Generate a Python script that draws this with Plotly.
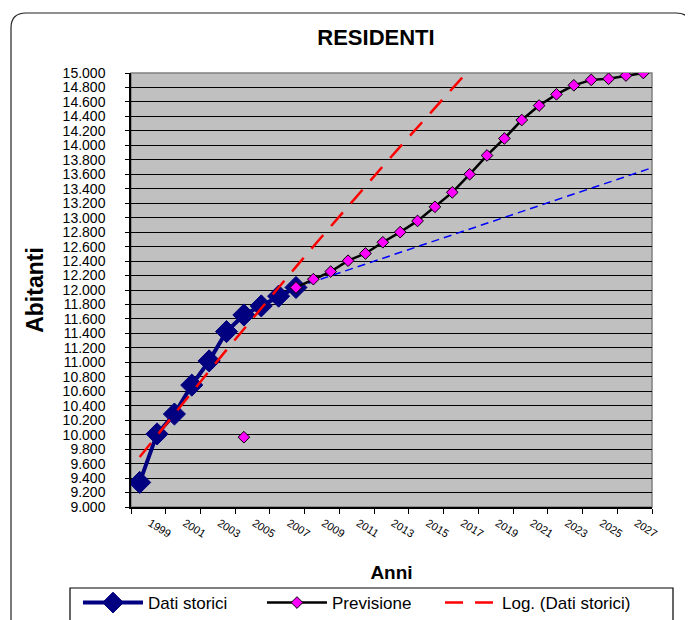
import plotly.graph_objects as go

# ---- data ----
anni_storici = [1999, 2000, 2001, 2002, 2003, 2004, 2005, 2006, 2007, 2008]
dati_storici = [9340, 10010, 10285, 10685, 11020, 11425, 11655, 11780, 11915, 12035]

anni_previsione = [2005, 2006, 2007, 2008, 2009, 2010, 2011, 2012, 2013, 2014, 2015,
                   2016, 2017, 2018, 2019, 2020, 2021, 2022, 2023, 2024, 2025,
                   2026, 2027, 2028]
previsione = [9965, None, None, 12035, 12150, 12255, 12405, 12505, 12660, 12800, 12955,
              13150, 13350, 13600, 13860, 14095, 14350, 14550, 14705, 14830, 14905,
              14920, 14965, 15000]

anni_log = [1999, 2000, 2001, 2002, 2003, 2004, 2005, 2006, 2007, 2008, 2009,
            2010, 2011, 2012, 2013, 2014, 2015, 2016, 2017, 2018]
log_trend = [9692, 9992, 10290, 10586, 10880, 11172, 11462, 11750, 12036, 12320, 12602,
             12882, 13160, 13436, 13710, 13982, 14252, 14520, 14786, 15052]

anni_lin = [2008, 2028.5]
lin_trend = [12035, 13690]

tick_anni = [1999, 2001, 2003, 2005, 2007, 2009, 2011, 2013, 2015, 2017, 2019,
             2021, 2023, 2025, 2027]
tick_labels = [str(a) for a in tick_anni]
tick_marks = [1998.5 + 2 * i for i in range(16)]

# ---- geometry (window pixels; page body has an 8px margin) ----
OFF = 8
W, H = 693 - OFF, 620 - OFF
PL, PR, PT, PB = 131, 652, 73, 507          # plot area in window pixels
L, R, T, B = PL - OFF, 693 - PR, PT - OFF, 620 - PB
PW, PH = PR - PL, PB - PT


def px(x):
    return (x - PL) / PW


def py(y):
    return (PB - y) / PH


FONT = "Liberation Sans, Arial, sans-serif"
LABEL_SHIFT = 0.6   # rotated labels sit a little right of the category centre

fig = go.Figure()

fig.add_trace(go.Scatter(
    x=anni_storici, y=dati_storici, name="Dati storici", mode="lines+markers",
    legend="legend",
    line=dict(color="#000080", width=4),
    marker=dict(symbol="diamond", size=17, color="#000080",
                line=dict(color="#000080", width=1)),
))
fig.add_trace(go.Scatter(
    x=anni_lin, y=lin_trend, name="lineare", mode="lines", showlegend=False,
    line=dict(color="#0000FF", width=1.5, dash="8px,5px"), hoverinfo="skip",
))
fig.add_trace(go.Scatter(
    x=anni_previsione, y=previsione, name="Previsione", mode="lines+markers",
    connectgaps=False, legend="legend2",
    line=dict(color="#000000", width=2.5),
    marker=dict(symbol="diamond", size=9, color="#FF00FF",
                line=dict(color="#000000", width=1)),
))
fig.add_trace(go.Scatter(
    x=anni_log, y=log_trend, name="Log. (Dati storici)", mode="lines",
    legend="legend3",
    line=dict(color="#FF0000", width=2.5, dash="18px,12px"),
))

# chart area border with rounded corners
r = 15
x0, x1, y0, y1 = 11, 691, 13, 640
path = (f"M {px(x0)},{py(y1)} L {px(x0)},{py(y0 + r)} "
        f"Q {px(x0)},{py(y0)} {px(x0 + r)},{py(y0)} "
        f"L {px(x1 - r)},{py(y0)} Q {px(x1)},{py(y0)} {px(x1)},{py(y0 + r)} "
        f"L {px(x1)},{py(y1)}")
shapes = [
    dict(type="path", xref="paper", yref="paper", path=path,
         line=dict(color="#222222", width=1.2), layer="below"),
    # plot area border (grey)
    dict(type="rect", xref="paper", yref="paper", x0=0, x1=1, y0=0, y1=1,
         line=dict(color="#808080", width=1.5), layer="below"),
    # legend box
    dict(type="rect", xref="paper", yref="paper",
         x0=px(70), x1=px(673), y0=py(640), y1=py(588),
         line=dict(color="#000000", width=1.2), fillcolor="white", layer="below"),
]


def leg(xw, itemwidth=60):
    return dict(orientation="h", x=px(xw), y=py(585), xanchor="left", yanchor="top",
                xref="paper", yref="paper",
                font=dict(size=17, family=FONT), bgcolor="rgba(0,0,0,0)",
                borderwidth=0, itemwidth=itemwidth)


fig.update_layout(
    width=W, height=H,
    margin=dict(l=L, r=R, t=T, b=B, autoexpand=False),
    paper_bgcolor="white",
    plot_bgcolor="#C0C0C0",
    separators=",.",
    font=dict(family=FONT, color="black"),
    title=dict(text="<b>RESIDENTI</b>", font=dict(size=22, family=FONT),
               x=px(376), xref="paper", xanchor="center",
               y=1 - (37 - OFF) / H, yref="container", yanchor="middle"),
    showlegend=True,
    legend=leg(78),
    legend2=leg(262),
    legend3=leg(440, itemwidth=52),
    shapes=shapes,
)

fig.update_xaxes(
    range=[1998.5, 2028.5], tickmode="array",
    tickvals=[a + LABEL_SHIFT for a in tick_anni], ticktext=tick_labels,
    tickangle=32, ticks="", tickfont=dict(size=11, family=FONT),
    ticklabelstandoff=4, automargin=False,
    showgrid=False, zeroline=False,
    showline=True, linecolor="black", linewidth=1.5,
    minor=dict(tickmode="array", tickvals=tick_marks, ticks="outside",
               ticklen=5, tickcolor="black", tickwidth=1, showgrid=False),
    title=dict(text="<b>Anni</b>", font=dict(size=19, family=FONT), standoff=27),
)
fig.update_yaxes(
    range=[9000, 15000], tickmode="linear", tick0=9000, dtick=200,
    tickformat=",.0f", tickfont=dict(size=14, family=FONT),
    ticks="outside", ticklen=4, tickcolor="black", ticklabelstandoff=17,
    automargin=False,
    showgrid=True, gridcolor="black", gridwidth=1, zeroline=False,
    showline=True, linecolor="black", linewidth=1.5,
    title=dict(text="<b>Abitanti</b>", font=dict(size=23, family=FONT), standoff=13),
)

fig.write_html("out.html")
